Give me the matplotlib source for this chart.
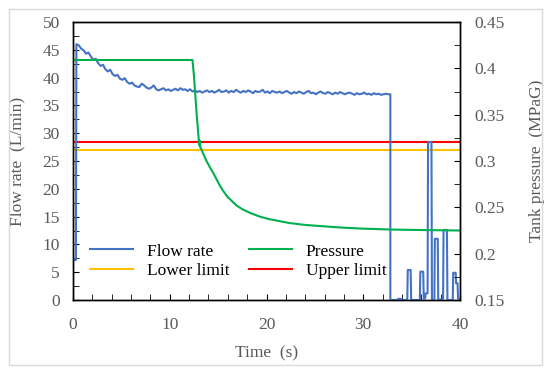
import matplotlib
matplotlib.use("Agg")
import matplotlib.pyplot as plt
import numpy as np
from matplotlib.patches import Rectangle
from matplotlib.ticker import MultipleLocator

plt.rcParams['font.family'] = ['Liberation Serif', 'DejaVu Serif']

# ---------------- data ----------------
# Flow rate (L/min): start-up
start_t = [0.0, 0.0, 0.3]
start_v = [0.0, 7.2, 7.2]
# decay part, 0.35 s .. 12.6 s every 0.25 s
decay_t0, decay_dt = 0.35, 0.25
decay_v = [46.0, 45.8, 45.2, 44.9, 44.3, 44.5, 43.8, 43.2, 43.4, 42.6,
           42.1, 42.3, 41.5, 41.1, 41.4, 40.6, 40.3, 40.5, 39.8, 39.6,
           39.9, 39.2, 38.9, 39.1, 38.6, 38.4, 38.3, 38.9, 38.6, 38.2,
           38.0, 38.2, 38.6, 37.9, 37.7, 37.9, 38.1, 37.7, 37.9, 37.6,
           37.8, 38.0, 37.7, 38.1, 37.8, 37.9, 37.6, 37.9, 37.5, 37.7]
# plateau, 12.85 s .. 32.6 s every 0.25 s
flat_t0, flat_dt = 12.85, 0.25
flat_v = [37.4, 37.6, 37.3, 37.5, 37.7, 37.4, 37.6, 37.3, 37.5, 37.8,
          37.4, 37.5, 37.7, 37.3, 37.6, 37.4, 37.8, 37.5, 37.3, 37.6,
          37.4, 37.7, 37.5, 37.2, 37.6, 37.4, 37.5, 37.8, 37.3, 37.5,
          37.2, 37.6, 37.4, 37.3, 37.5, 37.2, 37.4, 37.6, 37.3, 37.1,
          37.4, 37.2, 37.5, 37.3, 37.1, 37.4, 37.6, 37.2, 37.3, 37.0,
          37.3, 37.5, 37.2, 37.1, 37.4, 37.2, 37.0, 37.3, 37.1, 37.4,
          37.2, 37.0, 37.2, 37.3, 37.1, 36.9, 37.2, 37.0, 37.1, 37.3,
          37.0, 37.1, 36.9, 37.2, 37.0, 37.1, 36.9, 37.0, 37.1, 37.0]
# after valve closing: intermittent spikes
tail_t = [32.8, 32.8, 33.5, 33.6, 33.9, 34.0, 34.55, 34.6, 34.9, 34.95,
          35.85, 35.9, 36.2, 36.25, 36.4, 36.45, 36.65, 36.7, 37.05, 37.1,
          37.35, 37.4, 37.7, 37.75, 38.25, 38.3, 38.65, 38.7, 39.25, 39.3,
          39.55, 39.6, 39.75, 39.8, 40.0]
tail_v = [37.0, 0.0, 0.0, 0.2, 0.2, 0.0, 0.0, 5.4, 5.4, 0.0,
          0.0, 5.1, 5.1, 0.2, 0.3, 1.2, 1.2, 28.4, 28.4, 0.0,
          0.0, 11.0, 11.0, 0.0, 0.2, 12.6, 12.6, 0.0, 0.0, 4.9,
          4.9, 3.0, 3.0, 0.2, 0.2]

# Tank pressure (MPaG)
pres_t = [0.0, 12.35, 12.5, 12.6, 12.8, 13.0, 13.05, 13.1, 13.15, 13.3, 13.5,
          13.8, 14.16, 14.5, 14.75, 15.1, 15.5, 16.0, 16.5, 16.9, 17.5, 18.3,
          19.3, 20.4, 21.4, 22.4, 24.0, 26.6, 28.0, 30.0, 33.0, 36.0, 40.0]
pres_v = [0.409, 0.409, 0.392, 0.377, 0.348, 0.323, 0.317, 0.322, 0.315, 0.312,
          0.307, 0.300, 0.293, 0.287, 0.282, 0.275, 0.268, 0.261, 0.256, 0.252,
          0.248, 0.244, 0.240, 0.237, 0.235, 0.233, 0.231, 0.229, 0.228, 0.227,
          0.226, 0.2255, 0.225]

lower_limit = 27.0   # L/min
upper_limit = 28.5   # L/min

series_names = ["Flow rate", "Pressure", "Lower limit", "Upper limit"]
series_colors = ["#4472C4", "#00B050", "#FFC000", "#FF0000"]

decay_t = list(decay_t0 + decay_dt * np.arange(len(decay_v)))
flat_t = list(flat_t0 + flat_dt * np.arange(len(flat_v)))
flow_t = start_t + decay_t + flat_t + tail_t
flow_v = start_v + decay_v + flat_v + tail_v

# ---------------- plot ----------------
fig = plt.figure(figsize=(5.5, 3.75), dpi=100)
ax = fig.add_axes([73/550, 1-300/375, (460-73)/550, (300-22)/375])
ax2 = ax.twinx()

gray = "#595959"
lw = 1.5

l1, = ax.plot(flow_t, flow_v, color=series_colors[0], lw=lw, zorder=3)
l3 = ax.axhline(lower_limit, color=series_colors[2], lw=lw, zorder=2)
l4 = ax.axhline(upper_limit, color=series_colors[3], lw=lw, zorder=2)
l2, = ax2.plot(pres_t, pres_v, color=series_colors[1], lw=lw, zorder=2)

ax.set_xlim(0, 40)
ax.set_ylim(0, 50)
ax2.set_ylim(0.15, 0.45)

ax.xaxis.set_major_locator(MultipleLocator(10))
ax.xaxis.set_minor_locator(MultipleLocator(2))
ax.yaxis.set_major_locator(MultipleLocator(5))
ax.yaxis.set_minor_locator(MultipleLocator(2.5))
ax2.set_yticks([0.15, 0.2, 0.25, 0.3, 0.35, 0.4, 0.45])
ax2.set_yticklabels(["0.15", "0.2", "0.25", "0.3", "0.35", "0.4", "0.45"])
ax2.yaxis.set_minor_locator(MultipleLocator(0.025))

for a in (ax, ax2):
    a.tick_params(which="both", direction="in", colors="black", labelcolor=gray,
                  labelsize=12.5, length=4)
    for s in a.spines.values():
        s.set_color("black")
        s.set_linewidth(1.0)
ax.tick_params(axis="x", pad=12)
ax.tick_params(axis="y", pad=9.5)
ax2.tick_params(axis="y", pad=10)

ax.set_xlabel("Time  (s)", fontsize=12.5, color=gray, labelpad=9)
ax.set_ylabel("Flow rate  (L/min)", fontsize=12.5, color=gray, labelpad=12)
ax2.set_ylabel("Tank pressure  (MPaG)", fontsize=12.5, color=gray, labelpad=18)

leg = ax2.legend([l1, l3, l2, l4],
                 [series_names[0], series_names[2], series_names[1], series_names[3]],
                 ncol=2, frameon=False,
                 loc="lower left", bbox_to_anchor=(0.025, 0.05),
                 fontsize=12.5, handlelength=2.5, handletextpad=0.8,
                 columnspacing=1.1, labelspacing=0.2, borderaxespad=0)

fig.patches.append(Rectangle((9/550, 1-365/375), (542-9)/550, (365-9)/375,
                             transform=fig.transFigure, fill=False,
                             edgecolor="#d9d9d9", lw=1.0))

fig.savefig("out.png", dpi=100)
